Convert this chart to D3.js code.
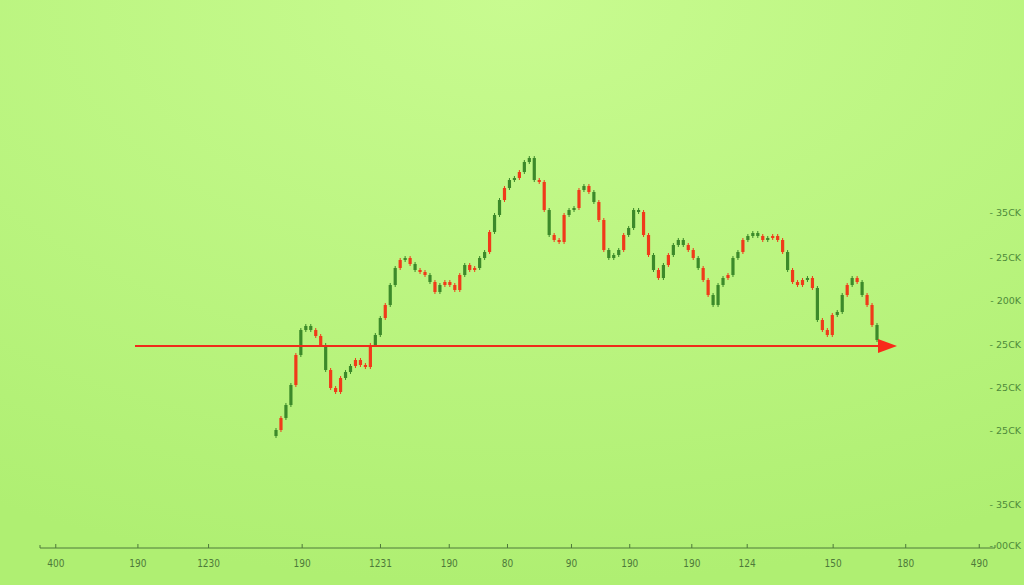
<!DOCTYPE html><html><head><meta charset="utf-8">
<script src="https://cdn.jsdelivr.net/npm/d3@7"></script>
<style>body{margin:0}svg{display:block}</style></head><body><svg id="c" width="1024" height="585"></svg>
<script>
const closes=[430,418,405,385,355,330,326,330,336,345,370,388,392,378,372,366,360,365,367,345,335,318,305,285,268,260,258,264,270,272,275,282,292,285,282,285,290,275,265,270,268,258,252,232,215,200,188,180,178,172,162,158,180,182,210,235,240,242,215,210,208,190,186,192,202,220,250,258,255,250,235,228,210,212,235,255,270,278,265,255,245,240,245,250,258,268,280,295,305,285,278,275,258,252,240,236,233,236,240,238,236,240,252,270,282,285,280,278,288,320,330,335,315,312,295,285,278,282,295,305,325,340].map(v=>548-v);
const supportLevel=548-346;
const xTickPos=[16,102,176,274,356,428,489,556,617,682,740,830,906,983];
const xTickLabels=["400","190","1230","190","1231","190","80","90","190","190","124","150","180","490"];
const yLabels=[["35CK",213],["25CK",258],["200K",301],["25CK",345],["25CK",388],["25CK",431],["35CK",505],["00CK",546]];
const svg=d3.select("#c");
const defs=svg.append("defs");
const g=defs.append("radialGradient").attr("id","bg").attr("cx","0.5").attr("cy","0").attr("r","1");
g.append("stop").attr("offset","0").attr("stop-color","#c8fb90");
g.append("stop").attr("offset","1").attr("stop-color","#afef72");
svg.append("rect").attr("width",1024).attr("height",585).attr("fill","url(#bg)");
const y=d3.scaleLinear().domain([0,548]).range([548,0]);
const x=d3.scaleLinear().domain([0,closes.length-1]).range([276,877]);
const candles=closes.map((c,i)=>{const o=i?closes[i-1]:c-6;return {i,o,c,h:Math.max(o,c)+2,l:Math.min(o,c)-2};});
const col=d=>(d.c>=d.o)===(d.i%3!==1)?"#3c8a2a":"#f03a1a";
const cg=svg.append("g");
cg.selectAll("line").data(candles).join("line").attr("x1",d=>x(d.i)).attr("x2",d=>x(d.i)).attr("y1",d=>y(d.h)).attr("y2",d=>y(d.l)).attr("stroke",col).attr("stroke-width",1);
cg.selectAll("rect").data(candles).join("rect").attr("x",d=>x(d.i)-1.6).attr("width",3.2).attr("y",d=>y(Math.max(d.o,d.c))).attr("height",d=>Math.max(1.5,Math.abs(y(d.o)-y(d.c)))).attr("fill",col);
const sy=y(supportLevel);
svg.append("line").attr("x1",135).attr("x2",886).attr("y1",sy).attr("y2",sy).attr("stroke","#f02a1a").attr("stroke-width",1.8);
svg.append("path").attr("d",`M878,${sy-7}L897,${sy}L878,${sy+7}Z`).attr("fill","#f82a1a");
const xa=d3.scaleLinear().domain([0,1000]).range([40,995]);
const ax=svg.append("g").attr("transform","translate(0,548)").call(d3.axisBottom(xa).tickValues(xTickPos).tickFormat((d,i)=>xTickLabels[i]).tickSize(4).tickPadding(8));
ax.select(".domain").attr("stroke","#4e7a3a").attr("d","M40,-3V0H995V-3");
ax.selectAll(".tick line").attr("stroke","#4e7a3a").attr("y2",-4);
ax.selectAll("text").attr("fill","#4e7a3a").style("font-family","DejaVu Sans Condensed, DejaVu Sans").style("font-size","10px");
svg.append("g").selectAll("text").data(yLabels).join("text").attr("x",1021).attr("y",d=>d[1]+3).attr("text-anchor","end").attr("fill","#4e8a3a").style("font-family","DejaVu Sans").style("font-size","9.5px").text(d=>"- "+d[0]);
</script></body></html>
